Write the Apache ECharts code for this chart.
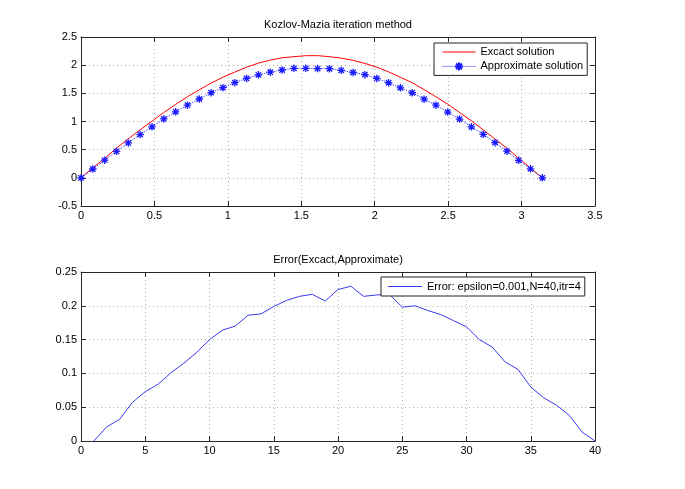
<!DOCTYPE html>
<html>
<head>
<meta charset="utf-8">
<script src="https://cdn.jsdelivr.net/npm/echarts@6/dist/echarts.min.js"></script>
<style>
html,body{margin:0;padding:0;background:#fff;}
#chart{width:685px;height:489px;}
</style>
</head>
<body>
<div id="chart"></div>
<script>
// x nodes (0..pi, 40 points)
const xNodes = [0, 0.0806, 0.1611, 0.2417, 0.3222, 0.4028, 0.4833, 0.5639, 0.6444, 0.7250,
  0.8055, 0.8861, 0.9666, 1.0472, 1.1278, 1.2083, 1.2889, 1.3694, 1.4500, 1.5305,
  1.6111, 1.6916, 1.7722, 1.8527, 1.9333, 2.0138, 2.0944, 2.1750, 2.2555, 2.3361,
  2.4166, 2.4972, 2.5777, 2.6583, 2.7389, 2.8194, 2.9000, 2.9805, 3.0611, 3.1416];
const exactSolution = [0, 0.178, 0.345, 0.527, 0.693, 0.852, 1.006, 1.160, 1.303, 1.440,
  1.563, 1.682, 1.786, 1.878, 1.964, 2.037, 2.090, 2.131, 2.151, 2.168,
  2.169, 2.151, 2.124, 2.087, 2.030, 1.965, 1.881, 1.785, 1.688, 1.566,
  1.440, 1.307, 1.160, 1.012, 0.852, 0.689, 0.526, 0.349, 0.173, 0];
const approxSolution = [0, 0.157, 0.313, 0.470, 0.620, 0.768, 0.905, 1.045, 1.172, 1.290,
  1.399, 1.512, 1.600, 1.690, 1.765, 1.829, 1.876, 1.914, 1.944, 1.944,
  1.940, 1.937, 1.908, 1.870, 1.832, 1.765, 1.688, 1.598, 1.510, 1.397,
  1.290, 1.168, 1.043, 0.906, 0.772, 0.625, 0.473, 0.311, 0.160, 0];
const errIndex = [1, 2, 3, 4, 5, 6, 7, 8, 9, 10, 11, 12, 13, 14, 15, 16, 17, 18, 19, 20,
  21, 22, 23, 24, 25, 26, 27, 28, 29, 30, 31, 32, 33, 34, 35, 36, 37, 38, 39, 40];
const errValues = [0, 0.021, 0.032, 0.057, 0.073, 0.084, 0.101, 0.115, 0.131, 0.150,
  0.164, 0.170, 0.186, 0.188, 0.199, 0.208, 0.214, 0.217, 0.207, 0.224,
  0.229, 0.214, 0.216, 0.217, 0.198, 0.200, 0.193, 0.187, 0.178, 0.169,
  0.150, 0.139, 0.117, 0.106, 0.080, 0.064, 0.053, 0.038, 0.013, 0];

const topTitle = 'Kozlov-Mazia iteration method';
const bottomTitle = 'Error(Excact,Approximate)';
const exactName = 'Excact solution';
const approxName = 'Approximate solution';
const errName = 'Error: epsilon=0.001,N=40,itr=4';

const FONT = "'Liberation Sans', Arial, sans-serif";
const AX = '#262626';
const GRIDC = '#b0b0b0';
const RED = '#ff0000';
const BLUE = '#1a1aff';
const ERRC = '#3a3aee';

function xAx(grid, min, max, interval, pos) {
  const main = pos === 'bottom';
  return {
    gridIndex: grid, type: 'value', min: min, max: max, interval: interval, position: pos,
    axisLine: {show: true, onZero: false, lineStyle: {color: AX, width: 1}},
    axisTick: {show: true, inside: true, length: 5, lineStyle: {color: AX, width: 1}},
    axisLabel: {show: main, color: '#000', fontSize: 11, fontFamily: FONT, margin: 4},
    splitLine: {show: main, lineStyle: {type: [1, 3], color: GRIDC, width: 1}}
  };
}
function yAx(grid, min, max, interval, pos) {
  const main = pos === 'left';
  return {
    gridIndex: grid, type: 'value', min: min, max: max, interval: interval, position: pos,
    axisLine: {show: true, onZero: false, lineStyle: {color: AX, width: 1}},
    axisTick: {show: true, inside: true, length: 5, lineStyle: {color: AX, width: 1}},
    axisLabel: {show: main, color: '#000', fontSize: 11, fontFamily: FONT, margin: 4},
    splitLine: {show: main, lineStyle: {type: [1, 3], color: GRIDC, width: 1}}
  };
}

const star = 'path://M0,-1L0,1M-1,0L1,0M-0.72,-0.72L0.72,0.72M-0.72,0.72L0.72,-0.72';
const lineIcon = 'path://M0,0H33V1H0Z';

const chart = echarts.init(document.getElementById('chart'), null, {renderer: 'canvas'});
chart.setOption({
  animation: false,
  backgroundColor: '#fff',
  title: [
    {text: topTitle, left: 338, top: 19, textAlign: 'center', padding: 0,
     textStyle: {fontSize: 11, fontWeight: 'normal', color: '#000', fontFamily: FONT}},
    {text: bottomTitle, left: 338, top: 254, textAlign: 'center', padding: 0,
     textStyle: {fontSize: 11, fontWeight: 'normal', color: '#000', fontFamily: FONT}}
  ],
  grid: [
    {left: 81, top: 37, width: 514, height: 169, containLabel: false, outerBoundsMode: 'none'},
    {left: 81, top: 272, width: 514, height: 169, containLabel: false, outerBoundsMode: 'none'}
  ],
  xAxis: [
    xAx(0, 0, 3.5, 0.5, 'bottom'), xAx(0, 0, 3.5, 0.5, 'top'),
    xAx(1, 0, 40, 5, 'bottom'), xAx(1, 0, 40, 5, 'top')
  ],
  yAxis: [
    yAx(0, -0.5, 2.5, 0.5, 'left'), yAx(0, -0.5, 2.5, 0.5, 'right'),
    yAx(1, 0, 0.25, 0.05, 'left'), yAx(1, 0, 0.25, 0.05, 'right')
  ],
  legend: [
    {data: [
       {name: exactName, icon: lineIcon, itemStyle: {color: RED}},
       {name: approxName}
     ],
     orient: 'vertical', left: 434, top: 43,
     padding: [3.5, 4, 3.5, 8], itemWidth: 33, itemHeight: 10, itemGap: 3.4,
     lineStyle: {width: 1},
     backgroundColor: '#fff', borderColor: '#222', borderWidth: 1, borderRadius: 0,
     textStyle: {fontSize: 11, color: '#000', fontFamily: FONT}, selectedMode: false},
    {data: [{name: errName, icon: lineIcon, itemStyle: {color: ERRC}}],
     orient: 'vertical', left: 381, top: 277,
     padding: [4, 4, 4, 7], itemWidth: 34, itemHeight: 10, itemGap: 0,
     backgroundColor: '#fff', borderColor: '#222', borderWidth: 1, borderRadius: 0,
     textStyle: {fontSize: 11, color: '#000', fontFamily: FONT}, selectedMode: false}
  ],
  series: [
    {name: exactName, type: 'line', xAxisIndex: 0, yAxisIndex: 0,
     data: xNodes.map((x, i) => [x, exactSolution[i]]),
     symbol: 'none', color: RED, lineStyle: {color: RED, width: 1}, z: 2},
    {name: approxName, type: 'line', xAxisIndex: 0, yAxisIndex: 0,
     data: xNodes.map((x, i) => [x, approxSolution[i]]),
     symbol: star, symbolSize: 7.5, showSymbol: true, showAllSymbol: true, color: BLUE,
     itemStyle: {color: BLUE, borderColor: BLUE, borderWidth: 1.3},
     lineStyle: {color: '#3030ff', width: 1, type: [1, 1]}, z: 3},
    {name: errName, type: 'line', xAxisIndex: 2, yAxisIndex: 2,
     data: errIndex.map((x, i) => [x, errValues[i]]),
     symbol: 'none', color: ERRC, lineStyle: {color: ERRC, width: 1}, z: 2}
  ]
});
</script>
</body>
</html>
